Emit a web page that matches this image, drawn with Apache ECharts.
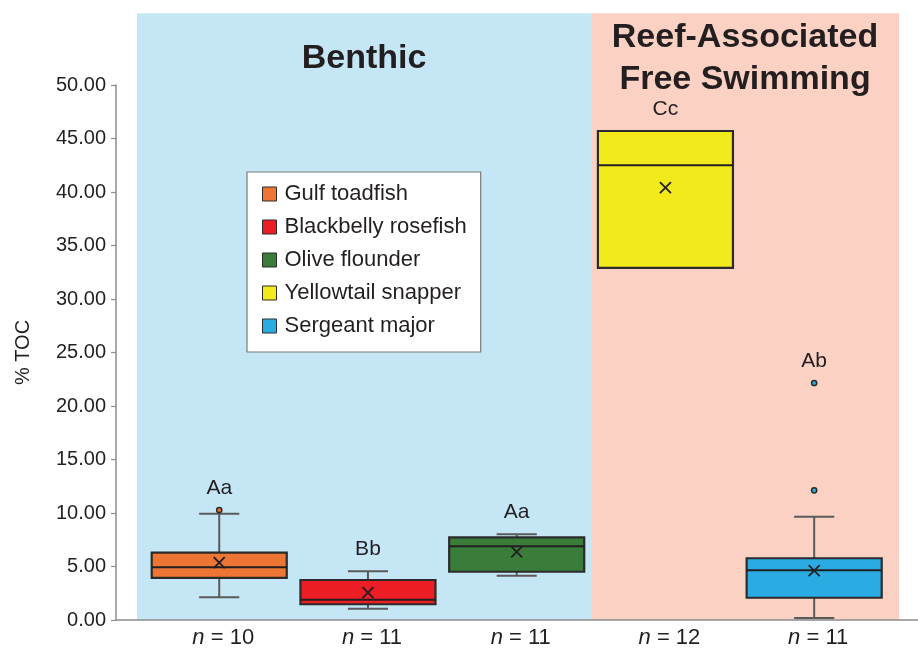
<!DOCTYPE html>
<html>
<head>
<meta charset="utf-8">
<script src="https://cdn.jsdelivr.net/npm/echarts@6/dist/echarts.min.js"></script>
<style>
  html, body { margin: 0; padding: 0; background: #ffffff; }
  #chart { width: 918px; height: 649px; }
</style>
</head>
<body>
<div id="chart"></div>
<script>
// ---- Data: % TOC per species (box-and-whisker summaries) ----
const species = ['Gulf toadfish', 'Blackbelly rosefish', 'Olive flounder', 'Yellowtail snapper', 'Sergeant major'];
const sampleSizes = [10, 11, 11, 12, 11];
const whiskerLow  = [2.12, 1.06, 4.14, 32.9, 0.19];
const quartile1   = [3.93, 1.47, 4.51, 32.9, 2.08];
const medians     = [4.93, 1.90, 6.89, 42.5, 4.64];
const quartile3   = [6.29, 3.74, 7.73, 45.7, 5.77];
const whiskerHigh = [9.93, 4.55, 8.01, 45.7, 9.65];
const means       = [5.36, 2.55, 6.36, 40.4, 4.62];
const outliers    = [[10.28], [], [], [], [12.12, 22.15]];
const groupLetters = ['Aa', 'Bb', 'Aa', 'Cc', 'Ab'];

// Habitat groups and which species (by index) belong to each
const groupTitles = ['Benthic', 'Reef-Associated\nFree Swimming'];
const groupMembers = [[0, 1, 2], [3, 4]];

// Axis ticks
const yMin = 0, yMax = 50, yStep = 5;

// ---- Styling ----
const FONT = "'Liberation Sans', Arial, Helvetica, sans-serif";
const boxColors = ['#ee7634', '#ec1d25', '#3a7d3b', '#f2ea1b', '#2aace2'];
const groupFills = ['#c5e7f5', '#fbd1c4'];
const BOX_FRAC = 0.908;     // box width as a fraction of category spacing
const CAP_FRAC = 0.27;      // whisker cap width
const GROUP_TOP = 56.7;     // backgrounds reach above the top tick
const PAD_LEFT = 0.553, PAD_RIGHT = 0.57;

// x positions: species i sits at i + 1
const xPos = species.map((_, i) => i + 1);

const groupData = groupMembers.map((m, gi) => {
  const first = xPos[m[0]], last = xPos[m[m.length - 1]];
  const x0 = gi === 0 ? first - PAD_LEFT : (first + xPos[m[0] - 1]) / 2;
  const x1 = gi === groupMembers.length - 1 ? last + PAD_RIGHT
           : (last + xPos[groupMembers[gi + 1][0]]) / 2;
  return [x0, x1];
});

function renderGroup(params, api) {
  const tl = api.coord([api.value(0), GROUP_TOP]);
  const br = api.coord([api.value(1), 0]);
  return {
    type: 'group',
    children: [
      { type: 'rect',
        shape: { x: tl[0], y: tl[1], width: br[0] - tl[0], height: br[1] - tl[1] },
        style: { fill: groupFills[params.dataIndex] } },
      { type: 'text', x: (tl[0] + br[0]) / 2, y: tl[1] + 45,
        style: { text: groupTitles[params.dataIndex], fontSize: 34, fontWeight: 'bold',
                 fontFamily: FONT, fill: '#231f20', align: 'center', verticalAlign: 'middle',
                 lineHeight: 42 } }
    ]
  };
}

function makeBoxRenderer(si) {
  return function (params, api) {
    const x = api.value(0);
    const lo = api.value(1), q1 = api.value(2), med = api.value(3),
          q3 = api.value(4), hi = api.value(5), mean = api.value(6);
    const unit = api.size([1, 0])[0];
    const hb = unit * BOX_FRAC / 2, hc = unit * CAP_FRAC / 2;
    const P = v => api.coord([x, v]);
    const cx = P(med)[0];
    const yLo = P(lo)[1], yQ1 = P(q1)[1], yMed = P(med)[1], yQ3 = P(q3)[1], yHi = P(hi)[1], yMean = P(mean)[1];
    const whisk = { stroke: '#5a5a5a', lineWidth: 2 };
    const dark = { stroke: '#231f20', lineWidth: 2 };
    const m = 5.5;
    const kids = [
      { type: 'line', shape: { x1: cx, y1: yQ3, x2: cx, y2: yHi }, style: whisk },
      { type: 'line', shape: { x1: cx, y1: yQ1, x2: cx, y2: yLo }, style: whisk },
      { type: 'line', shape: { x1: cx - hc, y1: yHi, x2: cx + hc, y2: yHi }, style: whisk },
      { type: 'line', shape: { x1: cx - hc, y1: yLo, x2: cx + hc, y2: yLo }, style: whisk },
      { type: 'rect', shape: { x: cx - hb, y: yQ3, width: 2 * hb, height: yQ1 - yQ3 },
        style: { fill: boxColors[si], stroke: '#2b2b2b', lineWidth: 2.2 } },
      { type: 'line', shape: { x1: cx - hb, y1: yMed, x2: cx + hb, y2: yMed }, style: dark },
      { type: 'line', shape: { x1: cx - m, y1: yMean - m, x2: cx + m, y2: yMean + m }, style: { stroke: '#231f20', lineWidth: 1.8 } },
      { type: 'line', shape: { x1: cx - m, y1: yMean + m, x2: cx + m, y2: yMean - m }, style: { stroke: '#231f20', lineWidth: 1.8 } }
    ];
    let topY = yHi;
    outliers[si].forEach(v => {
      const p = P(v);
      topY = Math.min(topY, p[1]);
      kids.push({ type: 'circle', shape: { cx: cx, cy: p[1], r: 2.6 },
                  style: { fill: boxColors[si], stroke: '#2b2b2b', lineWidth: 1.5 } });
    });
    kids.push({ type: 'text', x: cx, y: topY - 22,
      style: { text: groupLetters[si], fontSize: 21, fontFamily: FONT, fill: '#231f20',
               align: 'center', verticalAlign: 'middle' } });
    const base = P(0);
    kids.push({ type: 'text', x: cx + 4, y: base[1] + 18,
      style: { text: '{i|n} = ' + sampleSizes[si], fontSize: 22, fontFamily: FONT, fill: '#231f20',
               align: 'center', verticalAlign: 'middle',
               rich: { i: { fontStyle: 'italic', fontSize: 22, fontFamily: FONT, fill: '#231f20' } } } });
    return { type: 'group', children: kids };
  };
}

const speciesSeries = species.map((name, i) => ({
  name: name,
  type: 'custom',
  z: 3,
  clip: false,
  itemStyle: { color: boxColors[i], borderColor: '#2b2b2b', borderWidth: 1 },
  encode: { x: 0, y: [1, 2, 3, 4, 5] },
  data: [[xPos[i], whiskerLow[i], quartile1[i], medians[i], quartile3[i], whiskerHigh[i], means[i]]],
  renderItem: makeBoxRenderer(i)
}));

const chart = echarts.init(document.getElementById('chart'), null, { renderer: 'canvas' });
chart.setOption({
  animation: false,
  backgroundColor: '#ffffff',
  textStyle: { fontFamily: FONT },
  grid: { left: 116, right: 0, top: 85, bottom: 29, containLabel: false, outerBoundsMode: 'none' },
  xAxis: {
    type: 'value', min: 0.306, max: 5.698,
    axisLine: { show: true, lineStyle: { color: '#8c8c8c', width: 1.5 } },
    axisTick: { show: false }, axisLabel: { show: false }, splitLine: { show: false }
  },
  yAxis: {
    type: 'value', min: yMin, max: yMax, interval: yStep,
    name: '% TOC', nameLocation: 'middle', nameGap: 83, nameRotate: 90,
    nameTextStyle: { fontSize: 20, color: '#231f20', fontFamily: FONT },
    axisLine: { show: true, lineStyle: { color: '#8c8c8c', width: 1.5 } },
    axisTick: { show: true, length: 5, lineStyle: { color: '#8c8c8c', width: 1.2 } },
    axisLabel: { fontSize: 20, color: '#231f20', margin: 10, fontFamily: FONT,
                 formatter: v => v.toFixed(2) },
    splitLine: { show: false }
  },
  legend: {
    data: species,
    orient: 'vertical',
    left: 247, top: 172,
    backgroundColor: '#ffffff',
    borderColor: '#7a7a7a', borderWidth: 1.2, borderRadius: 0,
    padding: [11, 14, 15, 15],
    itemGap: 11,
    itemWidth: 14, itemHeight: 14,
    icon: 'rect',
    selectedMode: false,
    itemStyle: { borderColor: '#2b2b2b', borderWidth: 1 },
    textStyle: { fontSize: 22, color: '#231f20', fontFamily: FONT, padding: [0, 0, 0, 3] }
  },
  series: [{
    type: 'custom', z: 0, silent: true, clip: false,
    encode: { x: [0, 1] },
    data: groupData,
    renderItem: renderGroup
  }].concat(speciesSeries)
});
</script>
</body>
</html>
